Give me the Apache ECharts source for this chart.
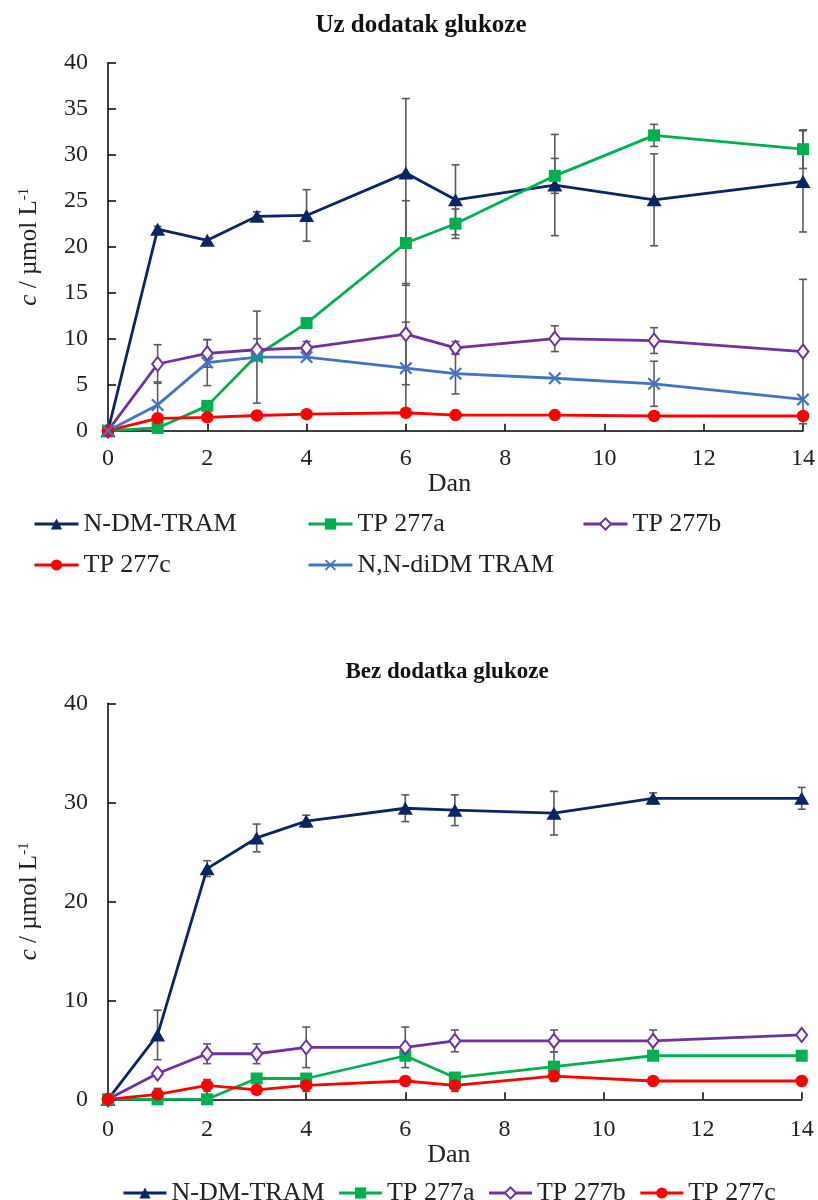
<!DOCTYPE html>
<html>
<head>
<meta charset="utf-8">
<script src="https://cdn.jsdelivr.net/npm/echarts@6/dist/echarts.min.js"></script>
<style>
html,body{margin:0;padding:0;background:#fff;}
#chart{width:818px;height:1200px;}
</style>
</head>
<body>
<div id="chart"></div>
<script>
// ---- data ----
const days = [0, 1, 2, 3, 4, 6, 7, 9, 11, 14];
const seriesNames = ['N-DM-TRAM', 'TP 277a', 'TP 277b', 'TP 277c', 'N,N-diDM TRAM'];
const xTicks = [0, 2, 4, 6, 8, 10, 12, 14];
const yTicksTop = [0, 5, 10, 15, 20, 25, 30, 35, 40];
const yTicksBottom = [0, 10, 20, 30, 40];

// Uz dodatak glukoze
const topNDM      = [0, 21.9, 20.7, 23.3, 23.4, 28.0, 25.1, 26.7, 25.1, 27.1];
const topNDMErr   = [0, 0.3, 0, 0.5, 2.8, 8.1, 3.8, 5.5, 5.0, 5.5];
const top277a     = [0, 0.3, 2.7, 8.2, 11.7, 20.4, 22.5, 27.7, 32.1, 30.6];
const top277aErr  = [0, 0, 0, 0, 0, 4.6, 1.6, 1.9, 1.2, 2.1];
const top277b     = [0, 7.25, 8.4, 8.8, 9.0, 10.5, 9.0, 10.0, 9.8, 8.6];
const top277bErr  = [0, 2.1, 1.5, 1.2, 0.7, 5.5, 0.7, 1.4, 1.4, 7.85];
const top277c     = [0, 1.35, 1.45, 1.65, 1.8, 1.95, 1.7, 1.7, 1.6, 1.6];
const top277cErr  = [0, 0, 0, 0, 0, 0, 0, 0, 0, 0];
const topDiDM     = [0, 2.8, 7.4, 8.0, 8.0, 6.8, 6.2, 5.7, 5.1, 3.4];
const topDiDMErr  = [0, 2.5, 2.5, 5.0, 0, 5.0, 2.2, 0, 2.45, 0];

// Bez dodatka glukoze
const botNDM      = [0, 6.5, 23.3, 26.4, 28.1, 29.4, 29.2, 28.9, 30.4, 30.4];
const botNDMErr   = [0, 2.5, 0.8, 1.4, 0.6, 1.35, 1.55, 2.2, 0.55, 1.1];
const bot277a     = [0, 0, 0, 2.1, 2.1, 4.4, 2.2, 3.3, 4.4, 4.4];
const bot277aErr  = [0, 0, 0, 0, 0, 0, 0, 1.5, 0, 0];
const bot277b     = [0, 2.6, 4.6, 4.6, 5.25, 5.25, 5.9, 5.9, 5.9, 6.5];
const bot277bErr  = [0, 0, 1.0, 1.0, 2.05, 2.05, 1.1, 1.1, 1.1, 0];
const bot277c     = [0, 0.5, 1.4, 0.95, 1.4, 1.85, 1.4, 2.35, 1.85, 1.85];
const bot277cErr  = [0, 0.6, 0.6, 0, 0.6, 0, 0.6, 0.5, 0, 0];

// ---- styles ----
const FONT = 'Liberation Serif';
const colors = {
  'N-DM-TRAM': '#0b2463',
  'TP 277a': '#00b050',
  'TP 277b': '#7030a0',
  'TP 277c': '#ff0000',
  'N,N-diDM TRAM': '#4472c4'
};
const crossPath = 'path://M0,1.2L1.2,0L5,3.8L8.8,0L10,1.2L6.2,5L10,8.8L8.8,10L5,6.2L1.2,10L0,8.8L3.8,5Z';
const symbols = {
  'N-DM-TRAM': { symbol: 'triangle', size: [15, 13] },
  'TP 277a': { symbol: 'rect', size: 12 },
  'TP 277b': { symbol: 'emptyDiamond', size: [11, 14] },
  'TP 277c': { symbol: 'circle', size: 12.5 },
  'N,N-diDM TRAM': { symbol: crossPath, size: 13 }
};

function pairs(vals) { return days.map((d, i) => [d, vals[i]]); }
function errPairs(vals, errs) {
  const out = [];
  days.forEach((d, i) => { if (errs[i] > 0) out.push([d, vals[i] - errs[i], vals[i] + errs[i]]); });
  return out;
}

function lineSeries(name, vals, gi) {
  const s = symbols[name];
  return {
    type: 'line', name: name, xAxisIndex: gi, yAxisIndex: gi,
    data: pairs(vals),
    symbol: s.symbol, symbolSize: s.size,
    showAllSymbol: true,
    color: colors[name],
    lineStyle: { color: colors[name], width: 2.8 },
    itemStyle: name === 'TP 277b' ? { color: colors[name], borderWidth: 1.6 } : { color: colors[name] },
    z: 3,
    animation: false
  };
}

function renderErr(params, api) {
  const x = api.value(0), lo = api.value(1), hi = api.value(2);
  const p1 = api.coord([x, hi]);
  const p2 = api.coord([x, lo]);
  const w = 4;
  const style = { stroke: '#5a5a5a', lineWidth: 1.6 };
  return {
    type: 'group',
    children: [
      { type: 'line', shape: { x1: p1[0], y1: p1[1], x2: p2[0], y2: p2[1] }, style: style },
      { type: 'line', shape: { x1: p1[0] - w, y1: p1[1], x2: p1[0] + w, y2: p1[1] }, style: style },
      { type: 'line', shape: { x1: p2[0] - w, y1: p2[1], x2: p2[0] + w, y2: p2[1] }, style: style }
    ]
  };
}

function errSeries(vals, errs, gi) {
  return {
    type: 'custom', xAxisIndex: gi, yAxisIndex: gi,
    renderItem: renderErr,
    data: errPairs(vals, errs),
    encode: { x: 0, y: [1, 2] },
    z: 2, silent: true, animation: false
  };
}

function xAxis(gi, nameGap, labelMargin) {
  return {
    type: 'value', gridIndex: gi, min: xTicks[0], max: xTicks[xTicks.length - 1], interval: 2,
    name: 'Dan', nameLocation: 'middle', nameGap: nameGap,
    nameTextStyle: { fontFamily: FONT, fontSize: 26, color: '#222', padding: [0, 12, 0, 0] },
    axisLine: { show: true, onZero: false, lineStyle: { color: '#000', width: 1.5 } },
    axisTick: { show: true, inside: true, length: 7, lineStyle: { color: '#000', width: 1.5 } },
    axisLabel: { fontFamily: FONT, fontSize: 24, color: '#222', margin: labelMargin },
    splitLine: { show: false }
  };
}

function yAxis(gi, ticks, nameGap) {
  return {
    type: 'value', gridIndex: gi, min: ticks[0], max: ticks[ticks.length - 1], interval: ticks[1] - ticks[0],
    name: '{i|c} / µmol L{s|-1}', nameLocation: 'middle', nameGap: nameGap,
    nameTextStyle: {
      fontFamily: FONT, fontSize: 25, color: '#222',
      rich: {
        i: { fontFamily: FONT, fontSize: 25, fontStyle: 'italic', color: '#222' },
        s: { fontFamily: FONT, fontSize: 15, color: '#222', verticalAlign: 'top', lineHeight: 25 }
      }
    },
    axisLine: { show: true, lineStyle: { color: '#000', width: 1.5 } },
    axisTick: { show: true, inside: true, length: 8, lineStyle: { color: '#000', width: 1.5 } },
    axisLabel: { fontFamily: FONT, fontSize: 24, color: '#222', margin: 20 },
    splitLine: { show: false }
  };
}

const legendText = { fontFamily: FONT, fontSize: 26, color: '#222' };
function legendAt(name, left, top) {
  return {
    data: [name], left: left, top: top, orient: 'horizontal', padding: 0,
    itemWidth: 44, itemHeight: 14, textStyle: legendText, selectedMode: false,
    lineStyle: { width: 3 }
  };
}

const option = {
  backgroundColor: '#fff',
  animation: false,
  title: [
    { text: 'Uz dodatak glukoze', left: 421, top: 13, textAlign: 'center', padding: 0,
      textStyle: { fontFamily: FONT, fontSize: 25, fontWeight: 'bold', color: '#111' } },
    { text: 'Bez dodatka glukoze', left: 447, top: 661, textAlign: 'center', padding: 0,
      textStyle: { fontFamily: FONT, fontSize: 23, fontWeight: 'bold', color: '#111' } }
  ],
  grid: [
    { left: 108, top: 62.7, width: 696, height: 368 },
    { left: 108, top: 703.3, width: 693.7, height: 396 }
  ],
  xAxis: [xAxis(0, 38, 16), xAxis(1, 30, 18)],
  yAxis: [yAxis(0, yTicksTop, 66), yAxis(1, yTicksBottom, 66)],
  legend: [
    legendAt(seriesNames[0], 33, 511),
    legendAt(seriesNames[1], 307, 511),
    legendAt(seriesNames[2], 582, 511),
    legendAt(seriesNames[3], 33, 552),
    legendAt(seriesNames[4], 307, 552),
    { data: seriesNames.slice(0, 4), left: 122, top: 1180, orient: 'horizontal', padding: 0,
      itemGap: 13, itemWidth: 43, itemHeight: 14, textStyle: legendText, selectedMode: false,
      lineStyle: { width: 3 } }
  ],
  series: [
    errSeries(topNDM, topNDMErr, 0),
    errSeries(top277a, top277aErr, 0),
    errSeries(top277b, top277bErr, 0),
    errSeries(top277c, top277cErr, 0),
    errSeries(topDiDM, topDiDMErr, 0),
    lineSeries('N-DM-TRAM', topNDM, 0),
    lineSeries('TP 277a', top277a, 0),
    lineSeries('TP 277b', top277b, 0),
    lineSeries('TP 277c', top277c, 0),
    lineSeries('N,N-diDM TRAM', topDiDM, 0),
    errSeries(botNDM, botNDMErr, 1),
    errSeries(bot277a, bot277aErr, 1),
    errSeries(bot277b, bot277bErr, 1),
    errSeries(bot277c, bot277cErr, 1),
    lineSeries('N-DM-TRAM', botNDM, 1),
    lineSeries('TP 277a', bot277a, 1),
    lineSeries('TP 277b', bot277b, 1),
    lineSeries('TP 277c', bot277c, 1)
  ]
};

const chart = echarts.init(document.getElementById('chart'), null, { renderer: 'canvas' });
chart.setOption(option);
</script>
</body>
</html>
